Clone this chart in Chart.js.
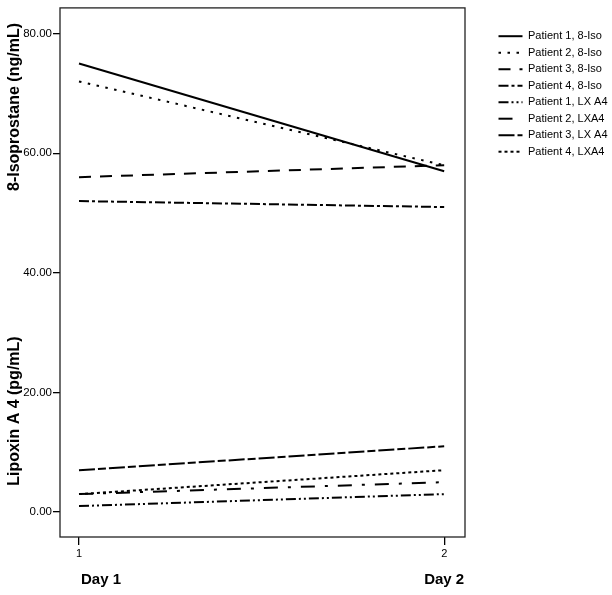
<!DOCTYPE html>
<html>
<head>
<meta charset="utf-8">
<script src="https://cdn.jsdelivr.net/npm/chart.js@4.4.1/dist/chart.umd.min.js"></script>
<style>
html, body { margin: 0; padding: 0; background: #fff; }
#wrap { width: 612px; height: 595px; }
</style>
</head>
<body>
<div id="wrap"><canvas id="myChart" width="612" height="595"></canvas></div>
<script>
// values
var days = [1, 2];
var dayLabels = ["Day 1", "Day 2"];
var seriesNames = ["Patient 1, 8-Iso", "Patient 2, 8-Iso", "Patient 3, 8-Iso", "Patient 4, 8-Iso",
	"Patient 1, LX A4", "Patient 2, LXA4", "Patient 3, LX A4", "Patient 4, LXA4"];
var p1Iso = [75, 57];
var p2Iso = [72, 58];
var p3Iso = [56, 58];
var p4Iso = [52, 51];
var p1Lx = [1, 3];
var p2Lx = [3, 5];
var p3Lx = [7, 11];
var p4Lx = [3, 7];
var yTicks = [0, 20, 40, 60, 80];

var seriesValues = [p1Iso, p2Iso, p3Iso, p4Iso, p1Lx, p2Lx, p3Lx, p4Lx];

// line styles, one per series
var dashes = [
	[],
	[2.5, 6.5],
	[12, 9],
	[10, 3, 3, 3],
	[10, 3, 2, 3, 2, 3],
	[14, 10, 3, 10],
	[16, 3, 8, 3],
	[3, 3]
];

var fontFamily = '"Liberation Sans", Arial, Helvetica, sans-serif';
// the "Day 1" caption sits a bit right of its tick in the original
var dayLabelShift = [22, 0];

function makeDatasets() {
	let sets = [];
	for (let i = 0; i < seriesValues.length; i++) {
		sets.push({
			label: seriesNames[i],
			data: days.map(function (d, j) { return { x: d, y: seriesValues[i][j] }; }),
			borderColor: "#000",
			backgroundColor: "#000",
			borderWidth: 2,
			borderDash: dashes[i],
			borderCapStyle: "butt",
			pointRadius: 0,
			fill: false,
			tension: 0
		});
	}
	return sets;
}

function drawRotated(ctx, text, x, y) {
	ctx.save();
	ctx.translate(x, y);
	ctx.rotate(-Math.PI / 2);
	ctx.fillText(text, 0, 0);
	ctx.restore();
}

// box round the plot, the two y titles and the day captions
var framePlugin = {
	id: "frame",
	afterDraw: function (chart) {
		var a = chart.chartArea, ctx = chart.ctx;
		ctx.save();
		ctx.strokeStyle = "#222";
		ctx.lineWidth = 1.3;
		ctx.strokeRect(a.left, a.top, a.right - a.left, a.bottom - a.top);
		ctx.fillStyle = "#000";
		ctx.font = "bold 16px " + fontFamily;
		ctx.textAlign = "center";
		ctx.textBaseline = "middle";
		drawRotated(ctx, "8-Isoprostane (ng/mL)", 15, 107);
		drawRotated(ctx, "Lipoxin A 4 (pg/mL)", 15, 411);
		ctx.font = "bold 15px " + fontFamily;
		var xs = chart.scales.x;
		for (let i = 0; i < days.length; i++) {
			ctx.fillText(dayLabels[i], xs.getPixelForValue(days[i]) + dayLabelShift[i], 580);
		}
		ctx.restore();
	}
};

var xMin = 0.948, xMax = 2.057;

var ctx = document.getElementById("myChart").getContext("2d");
var chart = new Chart(ctx, {
	type: "line",
	data: { datasets: makeDatasets() },
	options: {
		responsive: false,
		animation: false,
		events: [],
		layout: { padding: { top: 7, right: 0, bottom: 35, left: 0 } },
		plugins: {
			tooltip: { enabled: false },
			legend: {
				position: "right",
				align: "start",
				maxWidth: 119,
				title: { display: true, text: "", font: { size: 1 }, padding: { top: 17, bottom: 0 } },
				labels: {
					usePointStyle: true,
					pointStyle: "line",
					pointStyleWidth: 24,
					boxHeight: 11,
					padding: 5.5,
					color: "#000",
					font: { family: fontFamily, size: 11 },
					generateLabels: function (chart) {
						var items = Chart.defaults.plugins.legend.labels.generateLabels(chart);
						items.forEach(function (it) {
							it.lineDash = dashes[it.datasetIndex];
							it.lineWidth = 2;
							it.strokeStyle = "#000";
							it.lineCap = "butt";
						});
						return items;
					}
				}
			}
		},
		scales: {
			x: {
				type: "linear",
				position: "bottom",
				min: xMin,
				max: xMax,
				border: { display: false },
				grid: { drawOnChartArea: false, tickLength: 8, color: "#000", lineWidth: 1.3 },
				afterBuildTicks: function (s) { s.ticks = days.map(function (d) { return { value: d }; }); },
				afterFit: function (s) { s.height = 23; },
				ticks: {
					color: "#000",
					padding: 2,
					font: { family: fontFamily, size: 11 },
					maxRotation: 0,
					callback: function (v) { return String(v); }
				}
			},
			y: {
				type: "linear",
				position: "left",
				min: -4.17,
				max: 84.3,
				border: { display: false },
				grid: { drawOnChartArea: false, tickLength: 7, color: "#000", lineWidth: 1.3 },
				afterBuildTicks: function (s) { s.ticks = yTicks.map(function (v) { return { value: v }; }); },
				afterFit: function (s) { s.width = 60; },
				ticks: {
					color: "#000",
					padding: 1,
					font: { family: fontFamily, size: 11.5 },
					callback: function (v) { return v.toFixed(2); }
				}
			},
			gap: {
				type: "linear",
				position: "right",
				display: true,
				border: { display: false },
				grid: { display: false },
				ticks: { display: false },
				afterFit: function (s) { s.width = 28; }
			}
		}
	},
	plugins: [framePlugin]
});
</script>
</body>
</html>
